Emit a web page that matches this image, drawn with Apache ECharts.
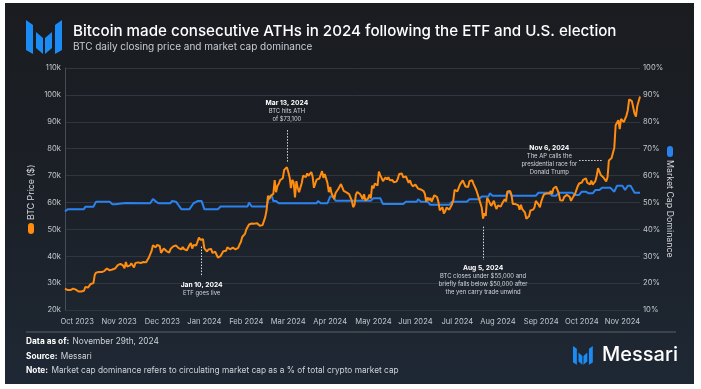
<!DOCTYPE html>
<html><head><meta charset="utf-8">
<script src="https://cdn.jsdelivr.net/npm/echarts@6/dist/echarts.min.js"></script>
<style>
html,body{margin:0;padding:0;background:#fff;width:701px;height:389px;overflow:hidden}
#panel{position:absolute;left:5px;top:3px;width:689px;height:381px;background:linear-gradient(180deg,#1a1c20 0%,#1b1f26 45%,#1e2834 100%)}
#chart{position:absolute;left:0;top:0;width:701px;height:389px}
</style></head><body><div id="panel"></div><div id="chart"></div>
<script>
// ---------- DATA ----------
const startDate = '2023-10-01';
const endDate = '2024-11-29';
// BTC daily close, thousands of USD
const close2023Oct = [27.99,27.53,27.43,27.79,27.41,27.95,27.97,27.94,27.59,27.39,26.87,26.76,26.86,26.86,27.16,28.52,28.42,28.33,28.72,29.68,29.92,29.99,33.09,33.90,34.50,34.16,33.91,34.09,34.54,34.48,34.67];
const close2023Nov = [35.44,34.94,34.72,35.08,35.05,35.05,35.43,35.65,36.69,37.31,37.13,37.07,36.49,35.54,37.88,36.15,36.60,36.57,37.38,37.47,35.81,37.42,37.29,37.72,37.80,37.48,37.25,37.83,37.86,37.71];
const close2023Dec = [38.69,39.48,39.98,41.98,44.08,43.75,43.29,44.17,43.72,43.79,41.24,41.45,42.89,43.02,41.93,42.24,41.36,42.66,42.26,43.65,43.87,43.99,43.74,43.02,43.61,42.52,43.44,42.63,42.10,42.14,42.28];
const close2024Jan = [44.18,44.94,42.85,44.18,44.16,43.97,43.93,46.97,46.11,46.63,46.35,42.89,42.85,41.73,42.51,43.15,42.74,41.26,41.62,41.66,41.55,39.51,39.85,40.08,39.93,41.82,42.12,42.03,43.30,42.95,42.58];
const close2024Feb = [43.08,43.19,43.00,42.58,42.66,43.09,44.33,45.30,47.15,47.77,48.29,49.96,49.70,51.81,51.94,52.16,51.66,52.12,51.78,52.28,51.84,51.30,50.73,51.57,51.73,54.52,57.09,62.50,61.20];
const close2024Mar = [62.44,62.03,63.17,68.33,63.80,66.11,66.93,68.30,68.50,69.02,72.12,71.48,73.08,71.40,69.40,65.32,68.39,67.55,61.91,67.91,65.49,63.78,64.06,67.23,69.96,69.99,69.45,70.78,69.89,69.65,71.33];
const close2024Apr = [69.70,65.45,65.98,68.51,67.84,68.90,69.36,71.63,69.14,70.59,70.06,67.20,63.82,65.74,63.42,63.81,61.28,63.51,63.84,64.99,64.93,66.84,66.41,64.28,64.50,63.77,63.46,63.12,63.84,60.64];
const close2024May = [58.25,59.12,62.89,63.89,64.03,63.16,62.33,61.19,63.05,60.79,60.79,61.45,62.90,61.55,66.27,65.23,67.05,66.94,66.28,71.45,70.14,69.12,67.93,68.53,69.29,68.51,69.39,68.29,67.58,68.36,67.49];
const close2024Jun = [67.71,67.75,68.80,70.57,71.08,70.76,69.34,69.30,69.65,69.51,67.32,68.24,66.76,66.01,66.19,66.64,66.49,65.14,64.96,64.83,64.10,64.25,63.18,60.28,61.81,60.84,61.67,60.32,60.89,62.68];
const close2024Jul = [62.85,62.03,60.20,57.06,56.66,58.24,55.86,56.71,58.05,57.72,57.34,57.90,59.23,60.80,64.72,65.04,64.09,63.99,66.71,67.16,68.19,67.56,65.93,65.37,65.78,67.91,67.81,68.26,66.82,66.20,64.62];
const close2024Aug = [65.36,61.41,60.68,58.12,53.99,56.03,55.03,61.71,60.88,60.94,58.71,59.35,60.61,58.74,57.56,58.88,59.49,58.43,59.49,59.01,61.18,60.38,64.09,64.18,64.22,62.83,59.42,59.01,59.38,59.12,58.97];
const close2024Sep = [57.33,59.11,57.48,57.97,56.18,53.96,54.14,54.84,57.02,57.65,57.34,58.13,60.57,60.00,59.18,58.21,60.31,61.76,62.95,63.20,63.35,63.58,63.34,64.28,63.14,65.18,65.79,65.89,65.60,63.33];
const close2024Oct = [60.84,60.63,60.75,62.09,62.06,62.82,62.22,62.13,60.58,60.27,62.44,63.19,62.85,66.05,67.04,67.61,67.40,68.42,68.36,69.00,67.37,67.37,66.66,68.16,66.64,67.01,67.93,69.91,72.72,72.34,70.22];
const close2024Nov = [69.48,69.29,68.74,67.81,69.36,75.64,75.90,76.55,76.68,80.37,88.70,87.96,90.58,87.25,91.07,90.56,89.85,90.46,92.31,94.29,98.32,98.89,97.67,97.90,93.01,91.96,95.86,95.64,99.40];

// Market cap dominance (%), read at change points
const dominance = [
 ['2023-10-01',46.6],['2023-10-03',47.5],['2023-10-15',47.5],['2023-10-16',48.4],['2023-10-18',48.4],['2023-10-19',49.0],['2023-10-20',48.4],['2023-10-22',48.4],['2023-10-24',50.3],
 ['2023-11-03',50.3],['2023-11-05',49.3],['2023-11-06',49.8],['2023-11-07',49.3],['2023-11-08',49.8],['2023-11-15',49.8],['2023-12-03',49.7],['2023-12-05',51.3],['2023-12-07',50.4],['2023-12-09',49.7],
 ['2023-12-18',49.7],['2023-12-19',50.5],['2023-12-22',50.3],['2023-12-23',49.7],['2023-12-26',47.5],['2024-01-01',47.5],['2024-01-04',49.7],['2024-01-07',50.5],['2024-01-10',50.5],['2024-01-12',47.5],
 ['2024-01-22',47.5],['2024-01-24',48.5],['2024-02-08',48.5],['2024-02-13',48.5],['2024-02-14',50.0],['2024-02-16',48.5],['2024-02-27',48.5],['2024-02-29',52.2],['2024-03-02',52.2],['2024-03-03',50.5],
 ['2024-03-05',50.5],['2024-03-07',49.7],['2024-04-04',49.7],['2024-04-05',50.5],['2024-04-07',49.7],['2024-04-12',49.7],['2024-04-14',52.2],['2024-04-16',52.2],['2024-04-18',50.6],['2024-05-14',50.6],
 ['2024-05-16',51.6],['2024-05-21',51.6],['2024-05-23',49.4],['2024-06-07',49.4],['2024-06-09',50.3],['2024-06-17',50.3],['2024-06-18',51.2],['2024-06-20',50.3],['2024-06-25',50.3],['2024-06-27',49.1],
 ['2024-07-11',49.1],['2024-07-13',50.3],['2024-07-24',50.3],['2024-07-26',51.2],['2024-08-02',51.2],['2024-08-04',52.2],['2024-08-09',52.2],['2024-08-10',53.4],['2024-08-12',52.5],['2024-08-22',52.5],
 ['2024-08-23',53.6],['2024-08-25',53.6],['2024-08-26',52.5],['2024-09-13',52.5],['2024-09-15',53.6],['2024-09-23',53.6],['2024-09-25',52.5],['2024-09-28',52.5],['2024-09-30',53.6],['2024-10-10',53.6],
 ['2024-10-12',52.8],['2024-10-15',52.8],['2024-10-17',54.0],['2024-10-20',54.0],['2024-10-22',53.4],['2024-10-25',53.4],['2024-10-27',54.6],['2024-10-30',54.6],['2024-11-01',55.5],['2024-11-07',55.5],
 ['2024-11-10',54.0],['2024-11-12',56.2],['2024-11-16',56.2],['2024-11-18',54.6],['2024-11-20',56.2],['2024-11-22',56.2],['2024-11-25',53.6],['2024-11-29',53.6]
];

const tickLabels = ['Oct 2023','Nov 2023','Dec 2023','Jan 2024','Feb 2024','Mar 2024','Apr 2024','May 2024','Jun 2024','Jul 2024','Aug 2024','Sep 2024','Oct 2024','Nov 2024'];
const tickDates  = ['2023-10-10','2023-11-10','2023-12-12','2024-01-12','2024-02-12','2024-03-14','2024-04-14','2024-05-16','2024-06-16','2024-07-17','2024-08-16','2024-09-17','2024-10-17','2024-11-16'];

const annotationText = [
  {date:'2024-03-13', title:'Mar 13, 2024', body:['BTC hits ATH','of $73,100']},
  {date:'2024-01-10', title:'Jan 10, 2024', body:['ETF goes live']},
  {date:'2024-08-05', title:'Aug 5, 2024', body:['BTC closes under $55,000 and','briefly falls below $50,000 after','the yen carry trade unwind']},
  {date:'2024-09-23', title:'Nov 6, 2024', body:['The AP calls the','presidential race for','Donald Trump']}
];

// ---------- BUILD ----------
const btcCloseK = [].concat(close2023Oct,close2023Nov,close2023Dec,close2024Jan,close2024Feb,close2024Mar,close2024Apr,close2024May,close2024Jun,close2024Jul,close2024Aug,close2024Sep,close2024Oct,close2024Nov);
const categories = [];
for (let t = Date.parse(startDate+'T00:00:00Z'); t <= Date.parse(endDate+'T00:00:00Z'); t += 86400000) categories.push(new Date(t).toISOString().slice(0,10));

// annotation anchor layout (value-axis positions of text tops / dotted leaders)
const annoTop = [98.6, 30.7, 37.3, 81.9];
const leaderLines = [
  [['2024-03-13',86.9],['2024-03-13',74.7]],
  [['2024-01-10',43.6],['2024-01-10',32.4]],
  [['2024-08-05',51.0],['2024-08-05',38.6]],
  [['2024-10-15',75.8],['2024-11-01',75.8]]
];

const FONT = 'Inter, "Liberation Sans", Arial, sans-serif';
const LABEL = '#c3c7cd';
const ORANGE = '#ff8c0f';
const BLUE = '#2a82ee';
const LOGO = '#1b8cf6';

function logo(x, y, s){
  const pts = [
    [[0,0],[7,5],[7,34],[0,30]],
    [[10,12],[17,18],[17,34],[10,28]],
    [[19,18],[26,12],[26,28],[19,34]],
    [[29,5],[36,0],[36,30],[29,34]]
  ];
  return {type:'group', x:x, y:y, scaleX:s, scaleY:s, children: pts.map(p=>({type:'polygon', shape:{points:p}, style:{fill:LOGO}}))};
}

const foot = (b, n) => ({text:'{b|'+b+'} {n|'+n+'}', verticalAlign:'middle', rich:{b:{fill:'#fff',font:'700 8.3px '+FONT},n:{fill:'#cfd3d8',font:'400 8.3px '+FONT}}});

const baseGraphic = [
  logo(26,20,1),
  {type:'text', x:73, y:31, style:{text:'Bitcoin made consecutive ATHs in 2024 following the ETF and U.S. election', fill:'#ffffff', font:'500 15.15px '+FONT, verticalAlign:'middle'}},
  {type:'text', x:73, y:47, style:{text:'BTC daily closing price and market cap dominance', fill:'#c9cdd3', font:'400 10px '+FONT, verticalAlign:'middle'}},
  {type:'group', x:31, y:234, rotation:Math.PI/2, children:[
    {type:'rect', shape:{x:0,y:-3,width:11,height:6,r:3}, style:{fill:ORANGE}},
    {type:'text', x:14, y:0, style:{text:'BTC Price ($)', fill:'#d5d8dc', font:'400 8.8px '+FONT, verticalAlign:'middle'}}
  ]},
  {type:'group', x:670, y:146, rotation:-Math.PI/2, children:[
    {type:'rect', shape:{x:0,y:-3,width:11,height:6,r:3}, style:{fill:BLUE}},
    {type:'text', x:14, y:0, style:{text:'Market Cap Dominance', fill:'#d5d8dc', font:'400 8.8px '+FONT, verticalAlign:'middle'}}
  ]},
  {type:'line', shape:{x1:26,y1:332,x2:676,y2:332}, style:{stroke:'#5b6169', lineWidth:1}},
  {type:'text', x:26, y:342, style:foot('Data as of:','November 29th, 2024')},
  {type:'text', x:26, y:357, style:foot('Source:','Messari')},
  {type:'text', x:26, y:371, style:foot('Note:','Market cap dominance refers to circulating market cap as a % of total crypto market cap')},
  logo(573,346,0.55),
  {type:'text', x:602, y:355, style:{text:'Messari', fill:'#ffffff', font:'500 20px '+FONT, verticalAlign:'middle'}}
];

const chart = echarts.init(document.getElementById('chart'), null, {renderer:'canvas'});
const option = {
  animation:false,
  backgroundColor:'transparent',
  grid:{left:65, right:61, top:68, bottom:79, containLabel:false},
  xAxis:{type:'category', data:categories, boundaryGap:false,
    axisLine:{show:false}, axisTick:{show:false}, splitLine:{show:false},
    axisLabel:{interval:(i,v)=>tickDates.indexOf(v)>=0, formatter:v=>tickLabels[tickDates.indexOf(v)]||'', color:LABEL, fontSize:7.6, fontFamily:FONT, margin:8, hideOverlap:false}},
  yAxis:[
    {type:'value', min:20, max:110, interval:10, position:'left',
      axisLine:{show:true, lineStyle:{color:'#474d55'}}, axisTick:{show:false},
      splitLine:{show:true, lineStyle:{color:'#30363e', width:1}},
      axisLabel:{formatter:'{value}k', color:LABEL, fontSize:7.6, fontFamily:FONT, margin:4}},
    {type:'value', min:10, max:100, interval:10, position:'right',
      axisLine:{show:false}, axisTick:{show:false}, splitLine:{show:false},
      axisLabel:{formatter:'{value}%', color:LABEL, fontSize:7.6, fontFamily:FONT, margin:3}}
  ],
  series:[
    {type:'line', name:'Market Cap Dominance', yAxisIndex:1, data:dominance, showSymbol:false, symbol:'none',
      lineStyle:{color:BLUE, width:2}, itemStyle:{color:BLUE}, z:2},
    {type:'line', name:'BTC Price', yAxisIndex:0, data:btcCloseK, showSymbol:false, symbol:'none',
      lineStyle:{color:ORANGE, width:2}, itemStyle:{color:ORANGE}, z:3,
      markLine:{silent:true, symbol:'none', label:{show:false},
        lineStyle:{color:'#d9dcdf', type:[1.5,1.5], width:1},
        data: leaderLines.map(l=>[{coord:l[0]},{coord:l[1]}])}}
  ],
  graphic: baseGraphic
};
chart.setOption(option);

const annoGraphic = annotationText.map((a,i)=>{
  const p = chart.convertToPixel({xAxisIndex:0, yAxisIndex:0}, [categories.indexOf(a.date), annoTop[i]]);
  const txt = '{b|'+a.title+'}\n' + a.body.map(s=>'{n|'+s+'}').join('\n');
  return {type:'text', x:p[0], y:p[1], z:10, style:{text:txt, align:'center', verticalAlign:'top',
    rich:{b:{fill:'#ffffff', font:'700 6.7px '+FONT, lineHeight:8.5, align:'center'},
          n:{fill:'#d3d6da', font:'400 5.9px '+FONT, lineHeight:8, align:'center'}}}};
});
chart.setOption({graphic: baseGraphic.concat(annoGraphic)});
</script></body></html>
